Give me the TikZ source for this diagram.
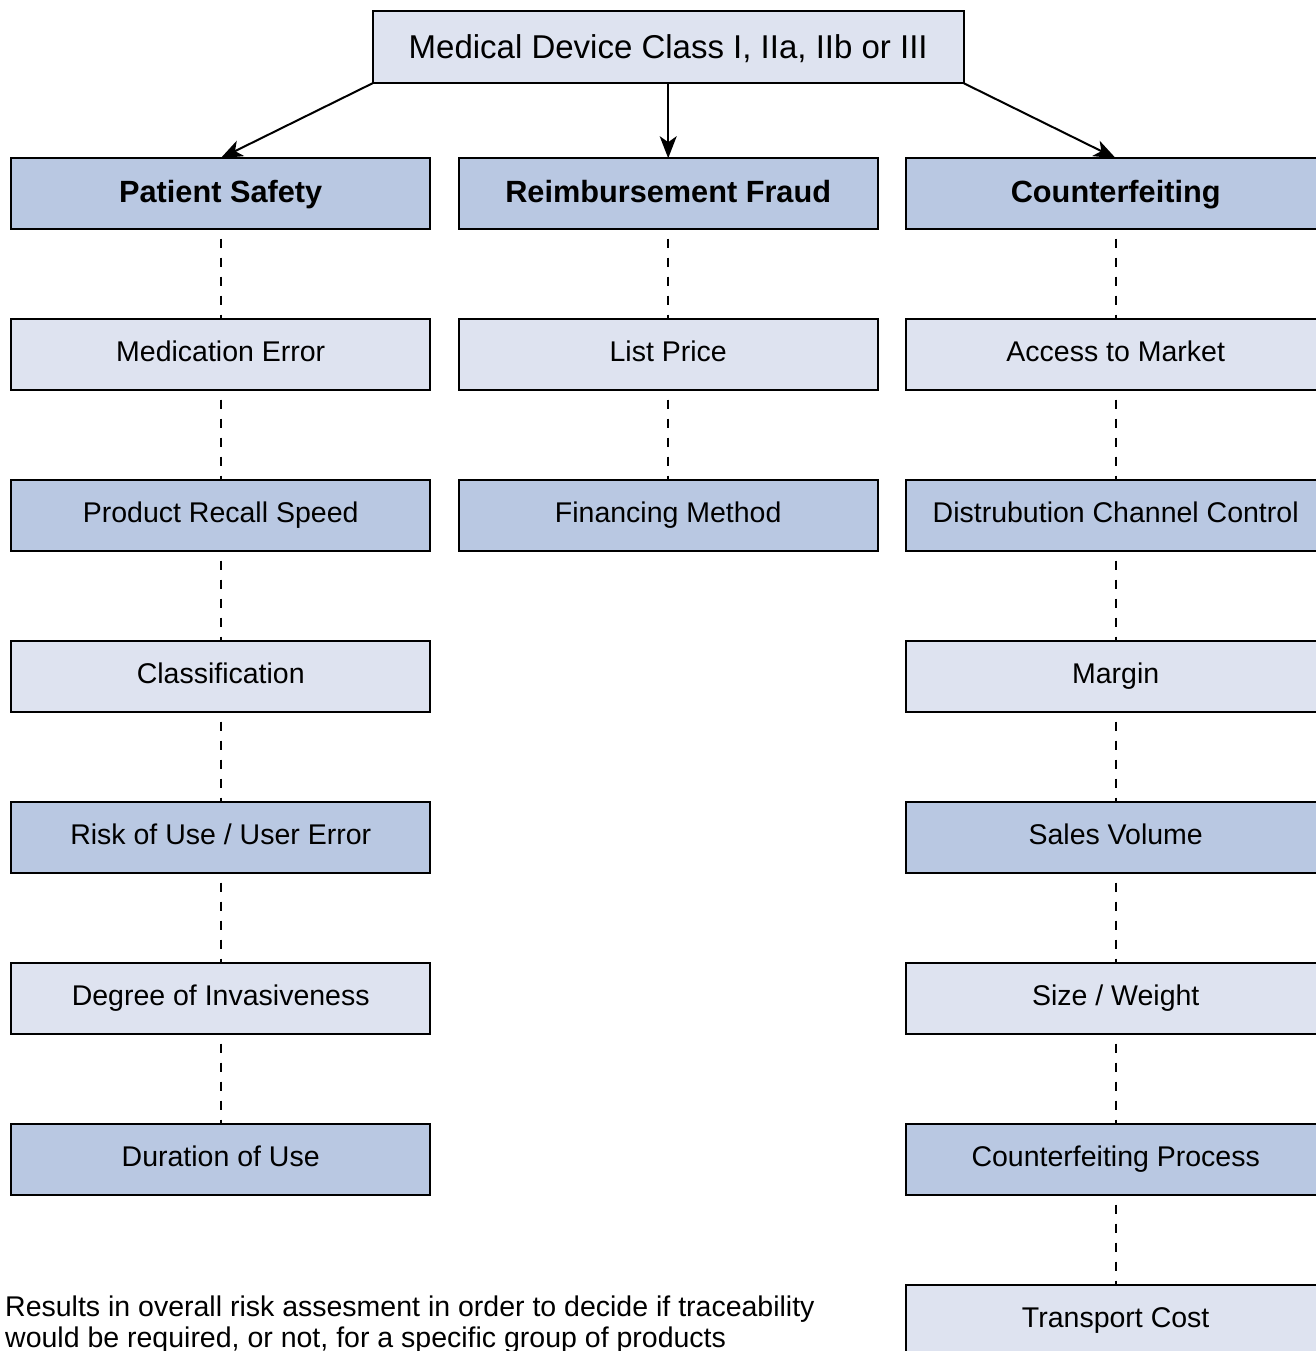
\documentclass[tikz,border=0pt]{standalone}
\usepackage{fontspec}
\setmainfont{Liberation Sans}
\usetikzlibrary{arrows.meta,matrix,positioning}

\definecolor{boxlight}{RGB}{222,227,240}
\definecolor{boxdark}{RGB}{185,200,226}

\begin{document}
\begin{tikzpicture}[x=1pt,y=1pt]
   \tikzstyle{box}=[draw,line width=2pt,minimum width=419pt,minimum height=71pt,inner sep=0pt,outer sep=0pt,text height=20pt,text depth=6.6pt,font=\fontsize{28.5}{31}\selectfont]
   \tikzstyle{lt}=[box,fill=boxlight]
   \tikzstyle{dk}=[box,fill=boxdark]
   \tikzstyle{head}=[dk,text height=21pt,text depth=4pt,font=\fontsize{30.7}{34}\selectfont\bfseries]
   \tikzstyle{ar}=[line width=2pt,-{Stealth[length=22pt,width=17pt,inset=6pt]}]
   \tikzstyle{dl}=[line width=2pt,dash pattern=on 9.5pt off 9.5pt,dash phase=9.5pt]

   \useasboundingbox (0,0) rectangle (1315,-1351);

   \matrix (grid) [row sep=88pt,column sep=26.5pt,inner sep=0pt,anchor=north west] at (10,-157) {
      \node (ps) [head] {Patient Safety} ; &
      \node (rf) [head] {Reimbursement Fraud} ; &
      \node (cf) [head] {Counterfeiting} ; \\
      \node (me) [lt] {Medication Error} ; &
      \node (lp) [lt] {List Price} ; &
      \node (am) [lt] {Access to Market} ; \\
      \node (rs) [dk] {Product Recall Speed} ; &
      \node (fm) [dk] {Financing Method} ; &
      \node (dc) [dk] {Distrubution Channel Control} ; \\
      \node (cl) [lt] {Classification} ; & &
      \node (mg) [lt] {Margin} ; \\
      \node (ru) [dk] {Risk of Use / User Error} ; & &
      \node (sv) [dk] {Sales Volume} ; \\
      \node (di) [lt] {Degree of Invasiveness} ; & &
      \node (sw) [lt] {Size / Weight} ; \\
      \node (du) [dk] {Duration of Use} ; & &
      \node (cp) [dk] {Counterfeiting Process} ; \\
      & &
      \node (tc) [lt] {Transport Cost} ; \\
   } ;

   \node (dev) [box,fill=boxlight,minimum width=591pt,minimum height=72pt,text height=24pt,text depth=2pt,font=\fontsize{33}{36}\selectfont,above=75pt of rf] {Medical Device Class I, IIa, IIb or III} ;

   \draw [ar] (dev.south west) -- (ps.north) ;
   \draw [ar] (dev.south) -- (rf.north) ;
   \draw [ar] (dev.south east) -- (cf.north) ;

   \draw [dl] (ps) -- (me) (me) -- (rs) (rs) -- (cl) (cl) -- (ru) (ru) -- (di) (di) -- (du) ;
   \draw [dl] (rf) -- (lp) (lp) -- (fm) ;
   \draw [dl] (cf) -- (am) (am) -- (dc) (dc) -- (mg) (mg) -- (sv) (sv) -- (sw) (sw) -- (cp) (cp) -- (tc) ;

   \node (note) [anchor=north west,inner sep=0pt,align=left,font=\fontsize{28.5}{31}\selectfont] at (5,-1296) {Results in overall risk assesment in order to decide if traceability\\would be required, or not, for a specific group of products} ;
\end{tikzpicture}
\end{document}
